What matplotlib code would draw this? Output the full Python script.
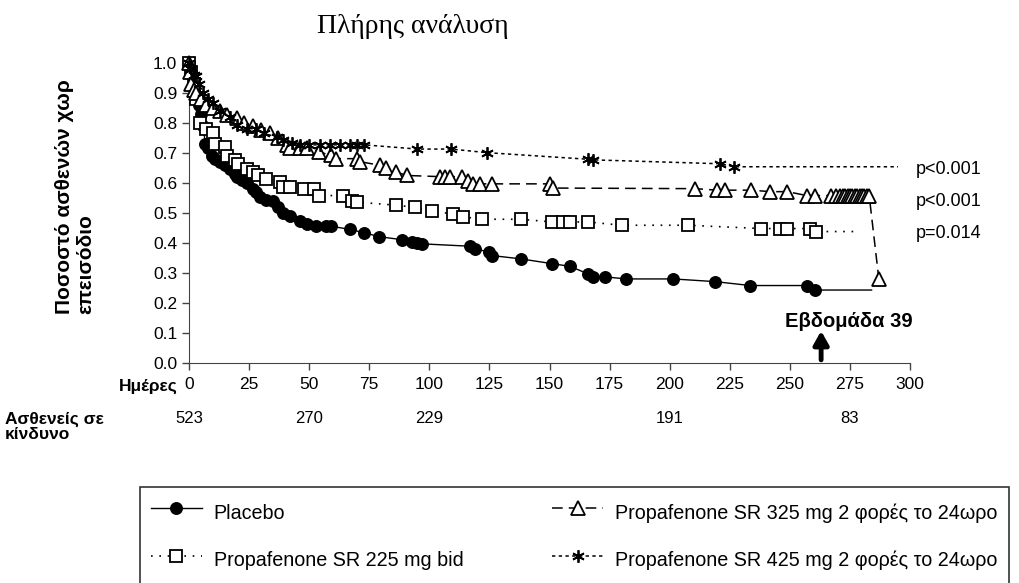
import matplotlib
matplotlib.use('Agg')
import matplotlib.pyplot as plt

plt.rcParams['font.family'] = ['Liberation Sans', 'DejaVu Sans']

# Placebo (κύκλοι)
placebo_days = [0, 1, 2, 3, 4, 5, 6, 6.7, 8, 9.4, 11, 13, 15, 17, 19, 20, 22, 24, 26.7, 28, 29.6, 32, 35, 37, 39,
                42, 46, 49, 53, 57, 59, 67, 73, 79, 88.5, 92.6, 95, 97, 117, 119, 125, 126, 138, 151, 158.5,
                166, 168, 173, 182, 201.5, 219, 233.5, 257, 260.5]
placebo_vals = [1.0, 0.97, 0.93, 0.89, 0.86, 0.83, 0.79, 0.73, 0.714, 0.69, 0.68, 0.67, 0.66, 0.645, 0.63, 0.62,
                0.61, 0.60, 0.58, 0.57, 0.553, 0.542, 0.54, 0.518, 0.50, 0.49, 0.472, 0.461, 0.456, 0.455, 0.455,
                0.444, 0.433, 0.42, 0.41, 0.402, 0.40, 0.396, 0.388, 0.38, 0.368, 0.357, 0.346, 0.33, 0.321,
                0.296, 0.286, 0.286, 0.279, 0.279, 0.27, 0.257, 0.257, 0.242]
placebo_end = (284, 0.242)

# Propafenone SR 225 mg (τετράγωνα)
p225_days = [0, 1, 2, 3, 4.6, 7, 10, 10.8, 15, 16, 19, 20.5, 24, 26.7, 28.9, 32, 38, 39, 42, 48, 52, 54, 64,
             67.7, 70, 86, 94, 101, 110, 114, 122, 138, 151, 155.7, 158.5, 166, 180, 207.6, 238, 246, 249,
             258.4, 261]
p225_vals = [1.0, 0.97, 0.93, 0.88, 0.80, 0.78, 0.764, 0.73, 0.72, 0.69, 0.674, 0.663, 0.646, 0.636, 0.624,
             0.613, 0.602, 0.585, 0.585, 0.579, 0.579, 0.557, 0.557, 0.54, 0.535, 0.525, 0.518, 0.506, 0.495,
             0.486, 0.478, 0.478, 0.469, 0.469, 0.469, 0.469, 0.458, 0.458, 0.447, 0.447, 0.447, 0.447, 0.437]
p225_end = (278, 0.437)

# Propafenone SR 325 mg (τρίγωνα)
p325_days = [0, 0.5, 1, 2, 3, 5, 7, 10, 13, 16, 20, 23, 26.7, 30, 33.7, 37, 40.6, 42, 46, 49, 54, 59, 61, 70,
             71, 79.5, 82, 86, 90.6, 104.5, 106.5, 108.6, 113.5, 116, 118, 121, 126, 150, 151.6, 210.6, 219.6,
             223, 234, 241.8, 249, 257, 260.5, 267, 269, 271, 272, 273, 274, 275, 276, 277, 278, 279, 280,
             281, 282, 283, 287]
p325_vals = [1.0, 0.97, 0.93, 0.91, 0.90, 0.88, 0.86, 0.85, 0.838, 0.825, 0.815, 0.80, 0.788, 0.775, 0.764,
             0.75, 0.725, 0.714, 0.714, 0.714, 0.703, 0.691, 0.68, 0.68, 0.67, 0.658, 0.65, 0.636, 0.624, 0.62,
             0.62, 0.62, 0.62, 0.605, 0.596, 0.596, 0.596, 0.596, 0.582, 0.58, 0.575, 0.575, 0.575, 0.57, 0.57,
             0.557, 0.557, 0.557, 0.557, 0.557, 0.557, 0.557, 0.557, 0.557, 0.557, 0.557, 0.557, 0.557, 0.557,
             0.557, 0.557, 0.557, 0.28]

# Propafenone SR 425 mg (αστερίσκοι)
p425_days = [0, 1, 2, 3, 4, 6, 8, 10, 13, 17, 20, 24, 28, 31, 36.5, 39, 43, 46, 50, 54.5, 58.7, 63, 67, 70, 73,
             95, 109, 124, 166, 168, 221, 226.6]
p425_vals = [1.0, 0.98, 0.96, 0.955, 0.93, 0.9, 0.88, 0.865, 0.838, 0.82, 0.792, 0.78, 0.78, 0.764, 0.753,
             0.742, 0.732, 0.726, 0.726, 0.726, 0.726, 0.726, 0.726, 0.726, 0.726, 0.712, 0.712, 0.70, 0.678,
             0.676, 0.663, 0.653]
p425_end = (295, 0.653)

p_values = ['p<0.001', 'p<0.001', 'p=0.014']
p_value_y = [0.643, 0.536, 0.43]

risk_days = [0, 50, 100, 200, 275]
risk_counts = ['523', '270', '229', '191', '83']

x_ticks = list(range(0, 301, 25))
y_ticks = [i / 10 for i in range(11)]

fig = plt.figure(figsize=(10.2, 5.83), dpi=100)
ax = fig.add_axes([0.1853, 0.378, 0.7069, 0.5145])

ax.plot(placebo_days + [placebo_end[0]], placebo_vals + [placebo_end[1]], color='black', lw=1.0,
        marker='o', ms=8.3, mfc='black', mec='black', markevery=list(range(len(placebo_days))),
        clip_on=False, zorder=3, label='Placebo')
ax.plot(p225_days + [p225_end[0]], p225_vals + [p225_end[1]], color='black', lw=1.2, ls=(0, (1, 4)),
        marker='s', ms=9, mfc='white', mec='black', mew=1.3, markevery=list(range(len(p225_days))),
        clip_on=False, zorder=3, label='Propafenone SR 225 mg bid')
ax.plot(p325_days, p325_vals, color='black', lw=1.1, ls=(0, (7, 4)),
        marker='^', ms=9.5, mfc='white', mec='black', mew=1.3, clip_on=False, zorder=3,
        label='Propafenone SR 325 mg 2 φορές το 24ωρο')
ax.plot(p425_days + [p425_end[0]], p425_vals + [p425_end[1]], color='black', lw=1.1, ls=(0, (2.2, 2.2)),
        marker=(6, 2, 0), ms=9, mec='black', mew=1.3, markevery=list(range(len(p425_days))),
        clip_on=False, zorder=3, label='Propafenone SR 425 mg 2 φορές το 24ωρο')

ax.set_xlim(0, 300)
ax.set_ylim(0, 1.0)
ax.set_xticks(x_ticks)
ax.set_yticks(y_ticks)
ax.set_yticklabels([f'{v:.1f}' for v in y_ticks])
ax.tick_params(axis='both', direction='out', length=5, width=1, labelsize=12.5, color='#444444')
ax.tick_params(axis='x', pad=5)
for side in ['top', 'right']:
    ax.spines[side].set_visible(False)
for side in ['left', 'bottom']:
    ax.spines[side].set_color('#444444')

for txt, yv in zip(p_values, p_value_y):
    ax.text(302.5, yv, txt, fontsize=13, va='center', ha='left', clip_on=False)

ax.text(248, 0.138, 'Εβδομάδα 39', fontsize=14.5, fontweight='bold', va='center', ha='left')
ax.annotate('', xy=(263, 0.115), xytext=(263, 0.0),
            arrowprops=dict(arrowstyle='-|>,head_length=0.8,head_width=0.45', lw=3.5, color='black'))

ax.set_ylabel('Ποσοστό ασθενών χωρ\nεπεισόδιο', fontsize=15, fontweight='bold', multialignment='left',
              linespacing=1.15)
ax.yaxis.set_label_coords(-0.130, 0.554)

ax.text(-0.015, -0.055, 'Ημέρες', transform=ax.transAxes, fontsize=12.5, fontweight='bold',
        ha='right', va='top')

for d, c in zip(risk_days, risk_counts):
    ax.text(d, -0.185, c, fontsize=12, ha='center', va='center', clip_on=False)
fig.text(0.005, 0.268, 'Ασθενείς σε\nκίνδυνο', fontsize=12.5, fontweight='bold', ha='left', va='center',
         linespacing=1.0)

fig.text(0.4044, 0.9434, 'Πλήρης ανάλυση', fontsize=20, family='Liberation Serif', ha='center',
         va='baseline')

h, l = ax.get_legend_handles_labels()
leg = fig.legend(h, l, loc='upper left', bbox_to_anchor=(0.137, 0.1647), ncol=2, fontsize=14.2,
                 frameon=True, fancybox=False, edgecolor='black', handlelength=2.6, handleheight=1.9,
                 handletextpad=0.6, columnspacing=4.5, borderpad=0.55, labelspacing=0.92, borderaxespad=0)
leg.get_frame().set_linewidth(1.2)

fig.savefig('out.png', dpi=100)
